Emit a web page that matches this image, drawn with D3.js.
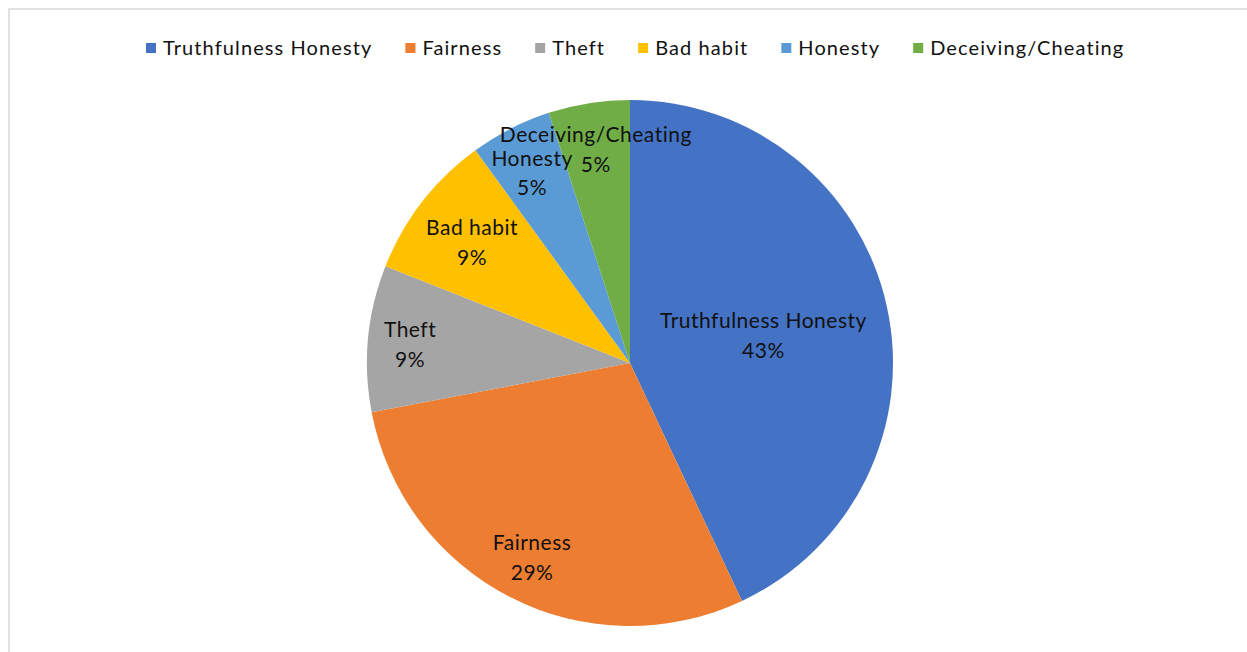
<!DOCTYPE html>
<html lang="en">
<head>
    <meta charset="UTF-8">
    <script src="https://cdn.jsdelivr.net/npm/d3@7.8.5/dist/d3.min.js"></script>
    <title>Values pie</title>
    <style>
        body { margin: 0; background: #fff; }
        text { font-family: Lato, "Liberation Sans", sans-serif; fill: #111; }
    </style>
</head>
<body>
    <svg width="1247" height="652"></svg>
    <script>
        // chart data
        var categories = ["Truthfulness Honesty", "Fairness", "Theft", "Bad habit", "Honesty", "Deceiving/Cheating"];
        var shares = [43, 29, 9, 9, 5, 5];
        var colors = ["#4472C4", "#ED7D31", "#A5A5A5", "#FFC000", "#5B9BD5", "#70AD47"];

        var svg = d3.select("svg");

        // chart frame
        svg.append("rect")
            .attr("x", 9).attr("y", 9)
            .attr("width", 1260).attr("height", 660)
            .attr("fill", "#fff")
            .attr("stroke", "#d9d9d9").attr("stroke-width", 1.5);

        var cx = 630, cy = 363, radius = 263;
        var rows = categories.map(function(c, i) { return { name: c, value: shares[i], color: colors[i] }; });

        var pie = d3.pie().value(function(d) { return d.value; }).sort(null);
        var arc = d3.arc().innerRadius(0).outerRadius(radius);
        var arcs = pie(rows);

        var g = svg.append("g").attr("transform", "translate(" + cx + "," + cy + ")");
        g.selectAll("path")
            .data(arcs)
            .enter().append("path")
            .attr("d", arc)
            .attr("fill", function(d) { return d.data.color; });

        // label placement, roughly like excel's best fit
        var labelFrac = [0.52, 0.82, 0.84, 0.76, 0.82, 0.83];
        var labels = g.selectAll(".lbl")
            .data(arcs)
            .enter().append("text")
            .attr("class", "lbl")
            .attr("text-anchor", "middle")
            .attr("font-size", 21)
            .attr("letter-spacing", 0.5)
            .attr("transform", function(d, i) {
                var r = radius * labelFrac[i];
                var a = (d.startAngle + d.endAngle) / 2;
                return "translate(" + (Math.sin(a) * r) + "," + (-Math.cos(a) * r) + ")";
            });
        labels.append("tspan").attr("x", 0).attr("dy", "-0.25em").text(function(d) { return d.data.name; });
        labels.append("tspan").attr("x", 0).attr("dy", "1.42em").text(function(d) { return d.data.value + "%"; });

        // legend across the top
        var legend = svg.append("g").attr("transform", "translate(0,48)");
        var x = 146;
        rows.forEach(function(d) {
            var item = legend.append("g").attr("transform", "translate(" + x + ",0)");
            item.append("rect").attr("x", 0).attr("y", -5).attr("width", 10).attr("height", 10).attr("fill", d.color);
            var t = item.append("text").attr("x", 17).attr("y", 7).attr("font-size", 20)
                .attr("letter-spacing", 1.1).text(d.name);
            x += 17 + t.node().getComputedTextLength() + 33;
        });
    </script>
</body>
</html>
